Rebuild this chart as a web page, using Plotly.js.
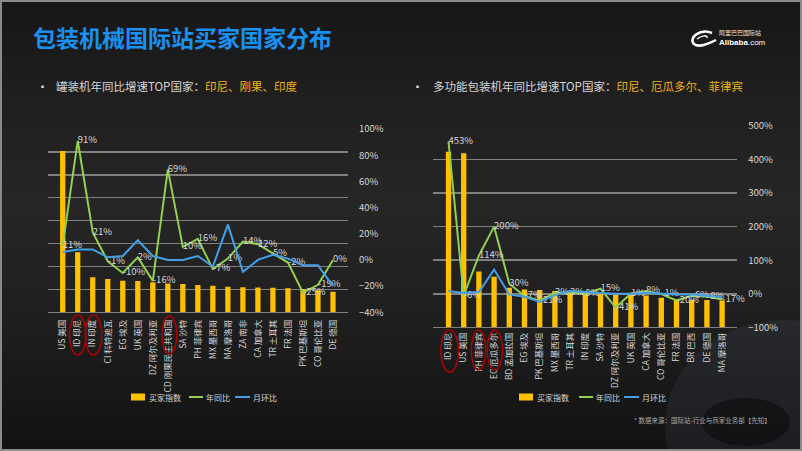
<!DOCTYPE html>
<html>
<head>
<meta charset="utf-8">
<script src="https://cdn.plot.ly/plotly-3.0.1.min.js"></script>
<style>
  html, body { margin: 0; padding: 0; background: #111; }
  #wrap {
    position: relative; width: 802px; height: 451px; overflow: hidden;
    background: linear-gradient(to bottom, #161616 0%, #1f1f1f 22%, #262626 45%, #1f1f1f 70%, #121212 100%);
  }
  #chart { position: absolute; left: 0; top: 0; width: 802px; height: 451px; }
  #frame {
    position: absolute; left: 0; top: 0; width: 802px; height: 451px;
    box-sizing: border-box; border: 2px solid #8a8a8a; pointer-events: none;
  }
</style>
</head>
<body>
<div id="wrap">
  <div id="chart"></div>
  <div id="frame"></div>
</div>
<script>
// 罐装机
const catsL = ['US 美国', 'ID 印尼', 'IN 印度', 'CI 科特迪瓦', 'EG 埃及', 'UK 英国', 'DZ 阿尔及利亚',
    'CD 刚果民主共和国', 'SA 沙特', 'PH 菲律宾', 'MX 墨西哥', 'MA 摩洛哥', 'ZA 南非', 'CA 加拿大',
    'TR 土耳其', 'FR 法国', 'PK 巴基斯坦', 'CO 哥伦比亚', 'DE 德国'];
const indexL = [7.04, 2.62, 1.53, 1.45, 1.38, 1.37, 1.31, 1.26, 1.23, 1.19, 1.16, 1.12, 1.09, 1.08, 1.07, 1.05, 1.02, 0.96, 0.9];
const yoyL = [11, 91, 21, -1, -10, 2, -16, 69, 10, 16, -7, 1, 14, 12, 5, -2, -25, -19, 0];
const momL = [6, 8, 8, 2, 3, 15, 3, 0, 0, 3, -5, 27, -9, 0, 4, 1, -4, -4, -20];

// 多功能包装机
const catsR = ['ID 印尼', 'US 美国', 'PH 菲律宾', 'EC 厄瓜多尔', 'BD 孟加拉国', 'EG 埃及', 'PK 巴基斯坦',
    'MX 墨西哥', 'TR 土耳其', 'IN 印度', 'SA 沙特', 'DZ 阿尔及利亚', 'UK 英国', 'CA 加拿大',
    'CO 哥伦比亚', 'FR 法国', 'BR 巴西', 'DE 德国', 'MA 摩洛哥'];
const indexR = [5.23, 5.19, 1.66, 1.51, 1.18, 1.13, 1.11, 1.08, 1.07, 1.04, 1.03, 0.97, 0.96, 0.95, 0.88, 0.84, 0.82, 0.81, 0.8];
const yoyR = [453, -6, 114, 200, 30, -7, -21, 3, 3, 0, 15, -41, 1, 8, -1, -20, -6, -8, -17];
const momR = [8, 2, 5, 72, -2, -9, -24, -4, 8, 4, 2, 0, 0, 3, 0, -2, -2, -5, -10];

const seriesNames = ['买家指数', '年同比', '月环比'];

const BAR = '#ffc000';
const GREEN = '#92d050';
const BLUE = '#449fe8';
const GRID = '#808080';
const TXT = '#d6d6d6';
const GOLD = '#f0b418';
const FONT = '"Noto Sans CJK SC", "Noto Sans", sans-serif';

const W = 802, H = 451;
const px = v => v / W;
const py = v => 1 - v / H;
const pct = arr => arr.map(v => v + '%');

function chartTraces(cats, idx, yoy, mom, xa, ya, ya2) {
    return [
        { x: cats, y: idx, type: 'bar', name: seriesNames[0], marker: { color: BAR },
          xaxis: xa, yaxis: ya, hoverinfo: 'skip' },
        { x: cats, y: yoy, type: 'scatter', mode: 'lines+text', name: seriesNames[1],
          line: { color: GREEN, width: 2 }, text: pct(yoy), textposition: 'middle right',
          textfont: { color: TXT, size: 9.5, family: FONT }, cliponaxis: false,
          xaxis: xa, yaxis: ya2, hoverinfo: 'skip' },
        { x: cats, y: mom, type: 'scatter', mode: 'lines', name: seriesNames[2],
          line: { color: BLUE, width: 2 }, xaxis: xa, yaxis: ya2, hoverinfo: 'skip' }
    ];
}

const traces = [
    ...chartTraces(catsL, indexL, yoyL, momL, 'x', 'y', 'y2'),
    ...chartTraces(catsR, indexR, yoyR, momR, 'x2', 'y3', 'y4')
];

const xCommon = {
    type: 'category', tickangle: -90, showgrid: false, zeroline: false, showline: false,
    ticks: 'outside', tickcolor: 'rgba(0,0,0,0)', tickfont: { color: TXT, size: 8.5, family: FONT }
};
const yBars = {
    showticklabels: false, showgrid: true, gridcolor: GRID, gridwidth: 1.5,
    zeroline: true, zerolinecolor: GRID, zerolinewidth: 1.5, dtick: 1, fixedrange: true
};
const yPct = {
    side: 'right', showgrid: false, zeroline: false, ticksuffix: '%',
    ticks: 'outside', ticklen: 8, tickcolor: 'rgba(0,0,0,0)',
    tickfont: { color: TXT, size: 9.5, family: FONT }
};

// legend drawn by hand, small like on the slide
function legendBits(x0, yc, pos) {
    const shapes = [
        { type: 'rect', xref: 'paper', yref: 'paper', x0: px(x0), x1: px(x0 + 14), y0: py(yc + 3.5), y1: py(yc - 3.5),
          fillcolor: BAR, line: { width: 0 } },
        { type: 'line', xref: 'paper', yref: 'paper', x0: px(pos[0]), x1: px(pos[0] + 14), y0: py(yc), y1: py(yc),
          line: { color: GREEN, width: 2 } },
        { type: 'line', xref: 'paper', yref: 'paper', x0: px(pos[1]), x1: px(pos[1] + 15), y0: py(yc), y1: py(yc),
          line: { color: BLUE, width: 2 } }
    ];
    const labels = [x0 + 16, pos[0] + 15, pos[1] + 16].map((x, i) => ({
        text: seriesNames[i], xref: 'paper', yref: 'paper', x: px(x), y: py(yc),
        xanchor: 'left', yanchor: 'middle', showarrow: false,
        font: { color: TXT, size: 8, family: FONT }
    }));
    return { shapes, labels };
}
const legL = legendBits(131, 397, [189, 235]);
const legR = legendBits(519, 397, [579, 624]);

const redRing = { color: '#b00000', width: 1.5 };
function ring(xa, c0, c1, top, bottom) {
    return { type: 'circle', xref: xa, yref: 'paper', x0: c0, x1: c1, y0: py(bottom), y1: py(top),
             line: redRing, fillcolor: 'rgba(0,0,0,0)' };
}

const layout = {
    width: W, height: H,
    margin: { l: 0, r: 0, t: 0, b: 0 },
    paper_bgcolor: 'rgba(0,0,0,0)',
    plot_bgcolor: 'rgba(0,0,0,0)',
    font: { family: FONT, color: TXT },
    showlegend: false,
    bargap: 0.65,
    xaxis: { ...xCommon, domain: [px(47.7), px(348)], anchor: 'y', ticklen: 3 },
    yaxis: { ...yBars, domain: [py(312.3), py(129)], range: [0, 8], anchor: 'x' },
    yaxis2: { ...yPct, overlaying: 'y', anchor: 'x', range: [-40, 100], dtick: 20 },
    xaxis2: { ...xCommon, domain: [px(433.3), px(737.3)], anchor: 'y3', ticklen: 1 },
    yaxis3: { ...yBars, domain: [py(327.3), py(126)], range: [0, 6], anchor: 'x2' },
    yaxis4: { ...yPct, overlaying: 'y3', anchor: 'x2', range: [-100, 500], dtick: 100 },
    shapes: [
        // faint watermark bottom right
        { type: 'circle', xref: 'paper', yref: 'paper', layer: 'below',
          x0: px(665), x1: px(905), y0: py(530), y1: py(320),
          fillcolor: 'rgba(90,110,130,0.13)', line: { width: 0 } },
        { type: 'circle', xref: 'paper', yref: 'paper', layer: 'below',
          x0: px(702), x1: px(790), y0: py(446), y1: py(398),
          fillcolor: 'rgba(5,5,5,0.45)', line: { width: 0 } },
        ring('x', 0.45, 1.55, 315, 355),
        ring('x', 1.5, 2.6, 315, 355),
        ring('x', 6.6, 7.6, 316, 354),
        ring('x2', -0.5, 0.65, 330, 372),
        ring('x2', 1.5, 2.45, 330, 370),
        ring('x2', 2.55, 3.55, 330, 370),
        // logo swoosh
        { type: 'path', xref: 'paper', yref: 'paper',
          path: `M ${px(712)} ${py(33)} C ${px(700)} ${py(28)}, ${px(688)} ${py(38)}, ${px(694)} ${py(44)} C ${px(699)} ${py(48)}, ${px(708)} ${py(44)}, ${px(716)} ${py(40)}`,
          line: { color: '#ffffff', width: 2.5 } },
        { type: 'path', xref: 'paper', yref: 'paper',
          path: `M ${px(697)} ${py(39)} C ${px(702)} ${py(35)}, ${px(708)} ${py(35)}, ${px(707)} ${py(38)}`,
          line: { color: '#ffffff', width: 1.5 } },
        ...legL.shapes, ...legR.shapes
    ],
    annotations: [
        { text: '<b>包装机械国际站买家国家分布</b>', xref: 'paper', yref: 'paper', x: px(31), y: py(37),
          xanchor: 'left', yanchor: 'middle', showarrow: false,
          font: { color: '#1a90f0', size: 23, family: FONT } },
        { text: '阿里巴巴国际站', xref: 'paper', yref: 'paper', x: px(717), y: py(32.5),
          xanchor: 'left', yanchor: 'middle', showarrow: false,
          font: { color: '#e8e8e8', size: 6, family: FONT } },
        { text: '<b>Alibaba</b>.com', xref: 'paper', yref: 'paper', x: px(717), y: py(42.5),
          xanchor: 'left', yanchor: 'middle', showarrow: false,
          font: { color: '#ffffff', size: 8, family: 'Liberation Sans, Arial, sans-serif' } },
        { text: '▪', xref: 'paper', yref: 'paper', x: px(36), y: py(86), xanchor: 'left', yanchor: 'middle',
          showarrow: false, font: { color: TXT, size: 9 } },
        { text: `<span style="color:${TXT}">罐装机年同比增速TOP国家：</span><span style="color:${GOLD}">印尼、刚果、印度</span>`,
          xref: 'paper', yref: 'paper', x: px(54), y: py(86), xanchor: 'left', yanchor: 'middle',
          showarrow: false, font: { size: 11.5, family: FONT } },
        { text: '▪', xref: 'paper', yref: 'paper', x: px(411), y: py(86), xanchor: 'left', yanchor: 'middle',
          showarrow: false, font: { color: TXT, size: 9 } },
        { text: `<span style="color:${TXT}">多功能包装机年同比增速TOP国家：</span><span style="color:${GOLD}">印尼、厄瓜多尔、菲律宾</span>`,
          xref: 'paper', yref: 'paper', x: px(431), y: py(86), xanchor: 'left', yanchor: 'middle',
          showarrow: false, font: { size: 11.5, family: FONT } },
        { text: '* 数据来源：国际站-行业与商家业务部【先知】', xref: 'paper', yref: 'paper', x: px(773), y: py(420),
          xanchor: 'right', yanchor: 'middle', showarrow: false,
          font: { color: '#a8a8a8', size: 6.5, family: FONT } },
        ...legL.labels, ...legR.labels
    ]
};

Plotly.newPlot('chart', traces, layout, { staticPlot: true, displayModeBar: false });
</script>
</body>
</html>
